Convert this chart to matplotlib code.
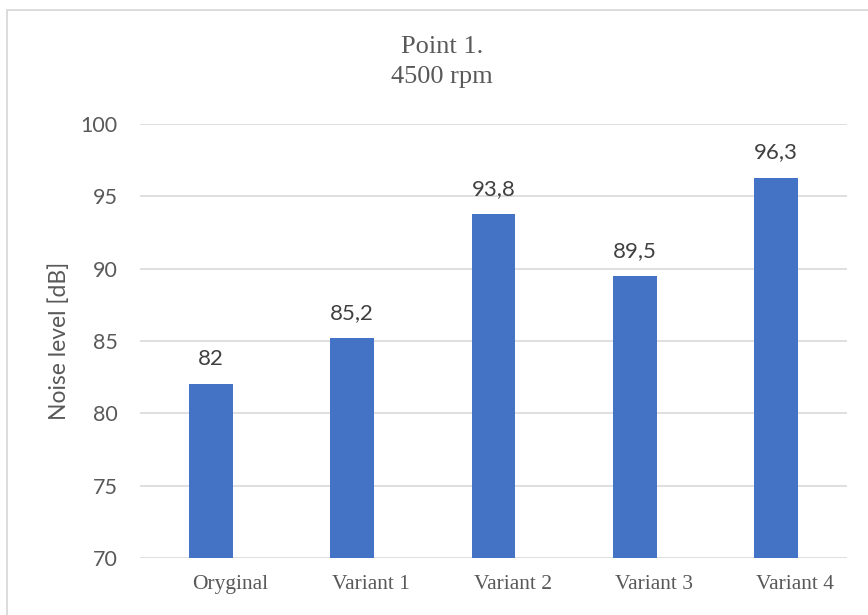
import matplotlib
matplotlib.use("Agg")
import matplotlib.pyplot as plt
from matplotlib.patches import Rectangle
from matplotlib.transforms import ScaledTranslation

categories = ["Oryginal", "Variant 1", "Variant 2", "Variant 3", "Variant 4"]
noise_db = [82, 85.2, 93.8, 89.5, 96.3]
value_labels = ["82", "85,2", "93,8", "89,5", "96,3"]
y_ticks = [70, 75, 80, 85, 90, 95, 100]

W, H = 868, 615
fig = plt.figure(figsize=(W / 100, H / 100), dpi=100)

# chart frame (runs off the right/bottom edge like the screenshot)
fig.patches.append(Rectangle((7 / W, -0.1), 1.2, 1 - 10 / H + 0.1,
                             transform=fig.transFigure, fill=False,
                             edgecolor="#d9d9d9", linewidth=1.3))

ax = fig.add_axes([140 / W, (H - 558) / H, 707 / W, 434 / H])
x = range(len(categories))
ax.bar(x, noise_db, width=0.31, color="#4472c4", zorder=3)
ax.set_ylim(70, 100)
ax.set_xlim(-0.5, len(categories) - 0.5)
ax.set_yticks(y_ticks)
ax.set_xticks(list(x))
ax.set_xticklabels(categories, family="Liberation Serif", fontsize=15.5, color="#595959")
ax.tick_params(axis="x", length=0, pad=12.5)
ax.tick_params(axis="y", length=0, pad=16, labelsize=15.5, labelcolor="#595959")
for lbl in ax.get_yticklabels():
    lbl.set_family("Lato")
# category labels sit a bit right of the bars in the original
shift = ScaledTranslation(0.19, 0, fig.dpi_scale_trans)
for lbl in ax.get_xticklabels():
    lbl.set_transform(lbl.get_transform() + shift)
ax.grid(axis="y", color="#d9d9d9", linewidth=1.2, zorder=0)
for s in ax.spines.values():
    s.set_visible(False)

for xi, v, t in zip(x, noise_db, value_labels):
    ax.annotate(t, (xi, v), xytext=(0, 18), textcoords="offset points",
                ha="center", va="center", family="Lato", fontsize=16, color="#404040")

fig.text(59 / W, 1 - 341 / H, "Noise level [dB]", rotation=90, ha="center", va="center",
         family="Lato", fontsize=16.5, color="#595959")

fig.text(442 / W, 1 - 47 / H, "Point 1.", ha="center", va="center",
         family="Liberation Serif", fontsize=19, color="#595959")
fig.text(442 / W, 1 - 77 / H, "4500 rpm", ha="center", va="center",
         family="Liberation Serif", fontsize=19, color="#595959")

fig.savefig("out.png", dpi=100)
